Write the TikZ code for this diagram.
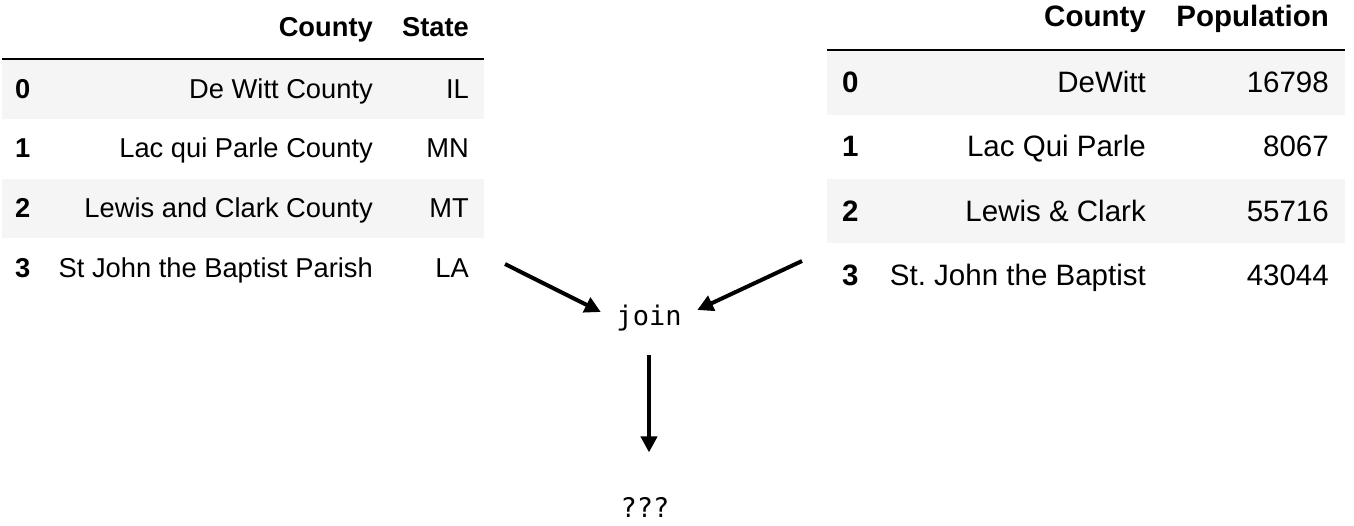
\documentclass[tikz,border=0pt]{standalone}
\usepackage{fontspec}
\setmainfont{Liberation Sans}
\setmonofont{DejaVu Sans Mono}
\usetikzlibrary{arrows.meta}
\definecolor{rowgray}{HTML}{F5F5F5}
\frenchspacing
\tikzset{
	>={Triangle[length=16pt,width=16pt]},
	lcell/.style={
		anchor=base east,
		inner sep=0pt,
		font=\fontsize{27.3}{32}\selectfont},
	lbold/.style={lcell, font=\fontsize{27.3}{32}\selectfont\bfseries},
	rcell/.style={
		anchor=base east,
		inner sep=0pt,
		font=\fontsize{29.5}{35}\selectfont},
	rbold/.style={rcell, font=\fontsize{29.5}{35}\selectfont\bfseries},
	band/.style={fill=rowgray},
	headrule/.style={draw, line width=2pt},
	code/.style={font=\ttfamily\fontsize{27}{32}\selectfont},
	flow/.style={draw, ->, line width=4pt},
}

\begin{document}
\begin{tikzpicture}[x=1pt, y=-1pt]
	\useasboundingbox (0,0) rectangle (1354,525);
	\fill[band] (2,59) rectangle (484,119);
	\fill[band] (2,179) rectangle (484,238);
	\draw[headrule] (2,58.5) -- (484,58.5);
	\node[lbold] (lhcty) at (373,36) {County};
	\node[lbold] (lhst) at (469,36) {State};
	\foreach \i/\c/\s in {0/De Witt County/IL, 1/Lac qui Parle County/MN, 2/Lewis and Clark County/MT, 3/St John the Baptist Parish/LA}{
		\node[lbold, anchor=base west] (lidx\i) at (15,98+59.7*\i) {\i};
		\node[lcell] (lcty\i) at (373,98+59.7*\i) {\c};
		\node[lcell] (lst\i) at (469,98+59.7*\i) {\s};
	}
	
	\fill[band] (827,50) rectangle (1345,114.5);
	\fill[band] (827,179) rectangle (1345,243);
	\draw[headrule] (827,49.5) -- (1345,49.5);
	\node[rbold] (rhcty) at (1146,26) {County};
	\node[rbold] (rhpop) at (1329,26) {Population};
	\foreach \i/\c/\p in {0/DeWitt/16798, 1/Lac Qui Parle/8067, 2/Lewis \& Clark/55716, 3/St. John the Baptist/43044}{
		\node[rbold, anchor=base west] (ridx\i) at (842,92+64.5*\i) {\i};
		\node[rcell] (rcty\i) at (1146,92+64.5*\i) {\c};
		\node[rcell] (rpop\i) at (1329,92+64.5*\i) {\p};
	}
	
	\node[code, minimum width=96pt, minimum height=74pt] (join) at (649,318) {join};
	\node[code, anchor=base] (res) at (645,517) {???};
	\coordinate (lout) at (505,264);
	\coordinate (rout) at (802,261);
	\draw[flow] (lout) -- ([yshift=6pt]join.west);
	\draw[flow] (rout) -- ([yshift=8pt]join.east);
	\draw[flow, shorten >=41pt] (join.south) -- (join.south |- res.north);
\end{tikzpicture}
\end{document}
